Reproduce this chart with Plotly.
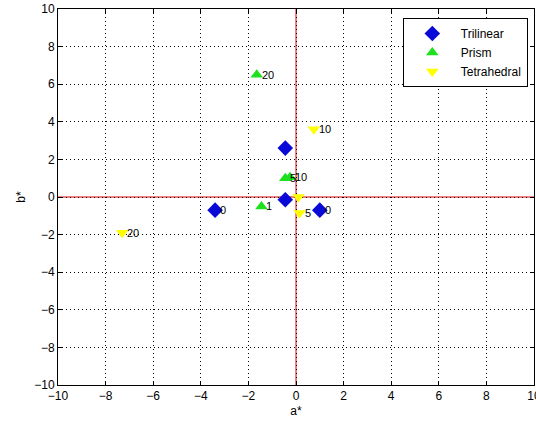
import plotly.graph_objects as go

# Data
tri_a = [-3.4, 1.0, -0.45, -0.45]
tri_b = [-0.7, -0.7, -0.15, 2.6]
tri_lbl = ["0", "0", "", ""]

pri_a = [-1.65, -0.45, -0.25, -1.45]
pri_b = [6.5, 1.0, 1.05, -0.5]
pri_lbl = ["20", "5", "10", "1"]

tet_a = [0.75, -7.3, 0.15, 0.1]
tet_b = [3.6, -1.9, -0.85, 0.0]
tet_lbl = ["10", "20", "5", ""]

ticks = list(range(-10, 11, 2))
origin = 0

FONT = "Arial, Liberation Sans, sans-serif"

fig = go.Figure()
series = [
    ("Trilinear", tri_a, tri_b, tri_lbl, "diamond", "#0a0ad8", 12),
    ("Prism", pri_a, pri_b, pri_lbl, "triangle-up", "#1ee01e", 11),
    ("Tetrahedral", tet_a, tet_b, tet_lbl, "triangle-down", "#ffff00", 11),
]
for name, a, b, lbl, sym, col, sz in series:
    fig.add_trace(go.Scatter(x=a, y=b, mode="markers", name=name,
                             marker=dict(symbol=sym, color=col, size=sz, line=dict(width=0))))
for name, a, b, lbl, sym, col, sz in series:
    for xa, yb, t in zip(a, b, lbl):
        if t:
            fig.add_annotation(x=xa, y=yb, text=t, showarrow=False, xanchor="left",
                               yanchor="middle", xshift=3,
                               font=dict(family=FONT, size=11, color="black"))

# red reference lines through the origin
fig.add_hline(y=origin, line=dict(color="#e00000", width=1), layer="below")
fig.add_vline(x=origin, line=dict(color="#e00000", width=1), layer="below")

axis_common = dict(range=[-10, 10], tickvals=ticks, showgrid=True, gridcolor="#000000",
                   griddash="1px,3px", gridwidth=1, zeroline=False,
                   showline=True, linecolor="black", linewidth=1, mirror="ticks",
                   ticks="inside", ticklen=4, tickcolor="black", automargin=False,
                   ticklabeloverflow="allow",
                   tickfont=dict(family=FONT, size=12, color="black"))

fig.update_xaxes(**axis_common, title=dict(text="a*", standoff=4,
                 font=dict(family=FONT, size=12, color="black")))
fig.update_yaxes(**axis_common, title=dict(text="b*", standoff=6,
                 font=dict(family=FONT, size=12, color="black")))

fig.update_layout(
    width=536, height=426, margin=dict(l=58, r=2, t=9, b=41),
    paper_bgcolor="white", plot_bgcolor="white",
    legend=dict(x=0.987, y=0.976, xanchor="right", yanchor="top", bgcolor="white",
                bordercolor="black", borderwidth=1,
                font=dict(family=FONT, size=12, color="black"),
                itemwidth=47, tracegroupgap=0),
    showlegend=True,
)

fig.write_html("out.html", config={"displayModeBar": False},
               post_script="document.body.style.margin='0';document.body.style.overflow='hidden';")
